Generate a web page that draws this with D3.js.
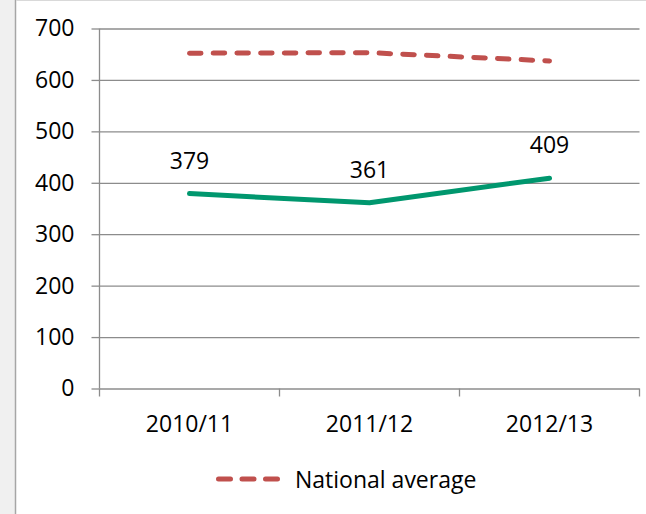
<!DOCTYPE html>
<html>
<head>
<meta charset="utf-8">
<script src="https://cdn.jsdelivr.net/npm/d3@7"></script>
<style>
  html, body { margin: 0; padding: 0; background: #fff; }
  svg { display: block; }
  text { font-family: "Open Sans", "Liberation Sans", sans-serif; fill: #000; }
</style>
</head>
<body>
<svg id="chart" width="646" height="514"></svg>
<script>
const categories = ["2010/11", "2011/12", "2012/13"];
const localValues = [379, 361, 409];
const nationalValues = [652, 653, 637];
const yTicks = [0, 100, 200, 300, 400, 500, 600, 700];
const legendLabel = "National average";

(function () {
const W = 646, H = 514;
const svg = d3.select("#chart");

// outer frame: gray strip at left, border lines
svg.append("rect").attr("x", 0).attr("y", 0).attr("width", W).attr("height", H).attr("fill", "#fff");
svg.append("rect").attr("x", 0).attr("y", 0).attr("width", 15).attr("height", H).attr("fill", "#f0f0f0");
svg.append("line").attr("x1", 15.5).attr("x2", 15.5).attr("y1", 0).attr("y2", H)
  .attr("stroke", "#a6a6a6").attr("stroke-width", 1.5);
svg.append("line").attr("x1", 16).attr("x2", W).attr("y1", 0.5).attr("y2", 0.5)
  .attr("stroke", "#d9d9d9").attr("stroke-width", 1);

const pLeft = 99.5, pRight = 639.5, pTop = 28.5, pBottom = 388.5;
const gridColor = "#8c8c8c";

const x = d3.scaleBand().domain(categories).range([pLeft, pRight]).padding(0);
const y = d3.scaleLinear().domain([0, 700]).range([pBottom, pTop]);
const cx = d => x(d) + x.bandwidth() / 2;

// gridlines + y ticks
const yAxis = d3.axisLeft(y).tickValues(yTicks).tickSize(8).tickPadding(17)
  .tickFormat(d3.format("d"));
const gy = svg.append("g").attr("transform", `translate(${pLeft},0)`).call(yAxis);
gy.select(".domain").remove();
gy.selectAll(".tick line").attr("stroke", gridColor).attr("stroke-width", 1.3);
gy.selectAll(".tick text").attr("font-size", 23).attr("fill", "#000")
  .attr("font-family", null);
gy.attr("font-family", null).attr("font-size", null);
gy.selectAll(".tick").append("line")
  .attr("x1", 0).attr("x2", pRight - pLeft)
  .attr("stroke", gridColor).attr("stroke-width", 1.3);

// y-axis vertical line
svg.append("line").attr("x1", pLeft).attr("x2", pLeft).attr("y1", pTop).attr("y2", pBottom)
  .attr("stroke", gridColor).attr("stroke-width", 1.3);

// x axis ticks at band boundaries
const xBounds = categories.map(c => x(c)).concat([x(categories[categories.length - 1]) + x.bandwidth()]);
svg.append("g").selectAll("line").data(xBounds).join("line")
  .attr("x1", d => d).attr("x2", d => d).attr("y1", pBottom).attr("y2", pBottom + 8)
  .attr("stroke", gridColor).attr("stroke-width", 1.3);
svg.append("g").selectAll("text").data(categories).join("text")
  .attr("x", d => cx(d)).attr("y", 432)
  .attr("text-anchor", "middle").attr("font-size", 23)
  .text(d => d);

// national average dashed line
const line = d3.line().x((d, i) => cx(categories[i])).y(d => y(d));
svg.append("path").datum(nationalValues)
  .attr("d", line)
  .attr("fill", "none").attr("stroke", "#c0504d").attr("stroke-width", 5)
  .attr("stroke-linecap", "round").attr("stroke-dasharray", "11.5 12.2");

// local line
svg.append("path").datum(localValues)
  .attr("d", line)
  .attr("fill", "none").attr("stroke", "#00976e").attr("stroke-width", 5)
  .attr("stroke-linecap", "round").attr("stroke-linejoin", "round");

// data labels
svg.append("g").selectAll("text").data(localValues).join("text")
  .attr("x", (d, i) => cx(categories[i]))
  .attr("y", d => y(d) - 25)
  .attr("text-anchor", "middle").attr("font-size", 23)
  .text(d => d);

// legend
svg.append("line").attr("x1", 218.5).attr("x2", 281).attr("y1", 479).attr("y2", 479)
  .attr("stroke", "#c0504d").attr("stroke-width", 5)
  .attr("stroke-linecap", "round").attr("stroke-dasharray", "12 11.5");
svg.append("text").attr("x", 295).attr("y", 488).attr("font-size", 23).text(legendLabel);
})();
</script>
</body>
</html>
